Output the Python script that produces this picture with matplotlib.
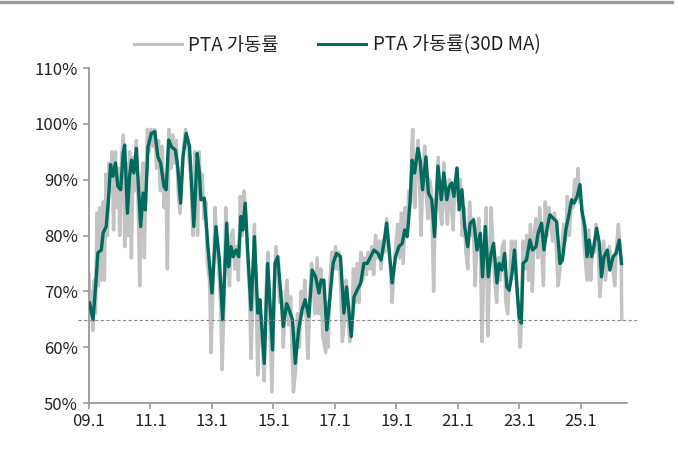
import matplotlib
matplotlib.use("Agg")
import matplotlib.pyplot as plt
from matplotlib.lines import Line2D

plt.rcParams['font.family'] = ['Noto Sans CJK KR', 'DejaVu Sans']

# ---- data (year fraction, utilisation %) ----
raw_x = [2009.00, 2009.04, 2009.08, 2009.12, 2009.17, 2009.21, 2009.26, 2009.30, 2009.35, 2009.40,
         2009.45, 2009.50, 2009.55, 2009.60, 2009.66, 2009.70, 2009.75, 2009.80, 2009.86, 2009.90,
         2009.95, 2010.00, 2010.06, 2010.12, 2010.16, 2010.21, 2010.27, 2010.32, 2010.38, 2010.43,
         2010.48, 2010.54, 2010.60, 2010.65, 2010.70, 2010.76, 2010.80, 2010.85, 2010.90, 2010.96,
         2011.02, 2011.08, 2011.14, 2011.20, 2011.26, 2011.32, 2011.38, 2011.44, 2011.50, 2011.55,
         2011.60, 2011.66, 2011.72, 2011.78, 2011.84, 2011.90, 2011.96, 2012.02, 2012.08, 2012.14,
         2012.20, 2012.26, 2012.32, 2012.38, 2012.44, 2012.50,
         2012.53, 2012.58, 2012.63, 2012.68, 2012.74, 2012.80, 2012.85, 2012.92, 2012.97, 2013.03,
         2013.10, 2013.16, 2013.22, 2013.28, 2013.33, 2013.40, 2013.45, 2013.52, 2013.57, 2013.62,
         2013.68, 2013.74, 2013.80, 2013.86, 2013.92, 2013.98, 2014.04, 2014.10, 2014.16, 2014.22,
         2014.27, 2014.33, 2014.38, 2014.43, 2014.49, 2014.53, 2014.58, 2014.64, 2014.70, 2014.76,
         2014.82, 2014.88, 2014.95, 2015.02, 2015.08, 2015.14, 2015.20, 2015.26, 2015.32, 2015.38,
         2015.44, 2015.50, 2015.56, 2015.60, 2015.65, 2015.72, 2015.78, 2015.84, 2015.90, 2015.96,
         2016.02, 2016.06, 2016.12, 2016.18, 2016.24, 2016.30, 2016.36, 2016.42, 2016.48, 2016.54,
         2016.60, 2016.70, 2016.74, 2016.78, 2016.84, 2016.90, 2016.96, 2017.02, 2017.08, 2017.14,
         2017.19, 2017.24, 2017.30, 2017.36, 2017.42, 2017.48, 2017.54, 2017.60, 2017.66, 2017.72,
         2017.78, 2017.84, 2017.90, 2017.96, 2018.02, 2018.08, 2018.14, 2018.20, 2018.26, 2018.32,
         2018.38, 2018.44, 2018.50, 2018.56, 2018.62, 2018.68, 2018.74, 2018.80, 2018.86, 2018.92,
         2018.98, 2019.04, 2019.10, 2019.16, 2019.22, 2019.28, 2019.34, 2019.40, 2019.46, 2019.50,
         2019.53, 2019.56, 2019.60, 2019.65, 2019.70, 2019.75, 2019.80, 2019.86, 2019.92, 2019.96,
         2020.02, 2020.08, 2020.14, 2020.21, 2020.26, 2020.30, 2020.36, 2020.42, 2020.48, 2020.54,
         2020.60, 2020.66, 2020.72, 2020.78, 2020.84, 2020.90, 2020.96, 2021.02, 2021.08, 2021.14,
         2021.20, 2021.26, 2021.32, 2021.38, 2021.44, 2021.50, 2021.56, 2021.62, 2021.68, 2021.74,
         2021.78, 2021.86, 2021.92, 2021.97, 2022.04, 2022.08, 2022.14, 2022.20, 2022.26, 2022.32,
         2022.38, 2022.44, 2022.50, 2022.56, 2022.62, 2022.68, 2022.74, 2022.80, 2022.86, 2022.92,
         2022.98, 2023.02,
         2023.04, 2023.08, 2023.12, 2023.18, 2023.24, 2023.30, 2023.36, 2023.42, 2023.48, 2023.54,
         2023.60, 2023.66, 2023.72, 2023.78, 2023.84, 2023.90, 2023.96, 2024.02, 2024.08, 2024.14,
         2024.20, 2024.26, 2024.32, 2024.38, 2024.44, 2024.50, 2024.56, 2024.62, 2024.68, 2024.74,
         2024.80, 2024.86, 2024.91, 2024.96, 2025.02, 2025.08, 2025.14, 2025.20, 2025.26, 2025.32,
         2025.38, 2025.44, 2025.50, 2025.56, 2025.62, 2025.68, 2025.74, 2025.80, 2025.86, 2025.92,
         2025.98, 2026.04, 2026.10, 2026.16, 2026.22, 2026.27, 2026.31, 2026.33]
raw_y = [73, 66, 70, 63, 72, 66, 84, 71, 85, 72,
         86, 72, 91, 80, 93, 88, 95, 81, 95, 85,
         92, 80, 94, 98, 78, 93, 80, 95, 76, 94,
         88, 97, 85, 71, 89, 93, 76, 90, 99, 95,
         99, 96, 99, 92, 97, 88, 96, 85, 91, 74,
         99, 92, 98, 93, 97, 88, 84, 92, 96, 99,
         97, 93, 90, 80, 95, 94,
         80, 95, 88, 91, 83, 86, 75, 72, 59, 70,
         85, 78, 74, 68, 56, 70, 85, 75, 71, 80,
         81, 74, 78, 72, 87, 80, 88, 84, 76, 70,
         58, 70, 82, 72, 55, 68, 64, 60, 54, 70,
         77, 66, 52, 70, 78, 74, 68, 70, 60, 68,
         72, 64, 69, 60, 52, 56, 66, 60, 70, 66,
         72, 66, 58, 68, 75, 70, 66, 76, 66, 74,
         62, 59, 68, 60, 72, 77, 74, 78, 74, 77,
         70, 61, 64, 72, 66, 61, 64, 74, 68, 75,
         68, 77, 72, 76, 73, 77, 74, 78, 73, 80,
         76, 79, 74, 79, 77, 83, 79, 75, 68, 74,
         78, 82, 76, 84, 75, 85, 80, 88, 86, 96,
         99, 90, 85, 93, 97, 90, 80, 91, 96, 88,
         83, 90, 88, 70, 84, 88, 94, 84, 82, 93,
         86, 82, 90, 86, 81, 89, 92, 86, 90, 80,
         85, 77, 74, 86, 80, 83, 71, 80, 83, 75,
         61, 78, 85, 62, 76, 85, 78, 72, 68, 76,
         72, 78, 79, 68, 66, 72, 79, 74, 79, 70,
         66, 60,
         61, 70, 79, 74, 80, 72, 82, 70, 80, 83,
         76, 85, 78, 71, 86, 80, 85, 82, 79, 84,
         78, 71, 74, 78, 82, 79, 87, 80, 86, 85,
         90, 87, 92, 86, 86, 80, 76, 72, 81, 72,
         78, 77, 82, 78, 69, 74, 79, 72, 76, 78,
         76, 74, 71, 78, 82, 77, 76, 65]

ma_x = [2009.02, 2009.13, 2009.19, 2009.29, 2009.40, 2009.46, 2009.56, 2009.64, 2009.70, 2009.78,
        2009.86, 2009.94, 2010.03, 2010.11, 2010.16, 2010.25, 2010.32, 2010.38, 2010.46, 2010.54,
        2010.59, 2010.68, 2010.76, 2010.83, 2010.92, 2011.03, 2011.14, 2011.24, 2011.33, 2011.44,
        2011.51, 2011.59, 2011.68, 2011.81, 2011.89, 2011.98, 2012.06, 2012.16, 2012.27, 2012.41,
        2012.52, 2012.59, 2012.64, 2012.75, 2012.86, 2013.00, 2013.13, 2013.24, 2013.35, 2013.48,
        2013.54, 2013.62, 2013.69, 2013.78, 2013.87, 2013.94, 2014.00, 2014.08, 2014.16, 2014.27,
        2014.38, 2014.49, 2014.56, 2014.70, 2014.81, 2014.88, 2014.97, 2015.05, 2015.14, 2015.21,
        2015.32, 2015.43, 2015.51, 2015.62, 2015.71, 2015.82, 2015.93, 2016.03, 2016.15, 2016.26,
        2016.37, 2016.48, 2016.55, 2016.64, 2016.73, 2016.80, 2016.94, 2017.05, 2017.18, 2017.29,
        2017.38, 2017.45, 2017.53, 2017.62, 2017.72, 2017.84, 2017.94, 2018.05, 2018.16, 2018.27,
        2018.40, 2018.50, 2018.59, 2018.68, 2018.79, 2018.86, 2018.97, 2019.08, 2019.19, 2019.27,
        2019.35, 2019.44, 2019.51, 2019.59, 2019.70, 2019.77, 2019.85, 2019.96, 2020.04, 2020.15,
        2020.24, 2020.35, 2020.46, 2020.54, 2020.64, 2020.72, 2020.80, 2020.87, 2020.97, 2021.04,
        2021.13, 2021.22, 2021.32, 2021.40, 2021.51, 2021.62, 2021.73, 2021.80, 2021.89, 2021.99,
        2022.08, 2022.16, 2022.27, 2022.34, 2022.43, 2022.52, 2022.59, 2022.67, 2022.76, 2022.84,
        2022.92, 2022.99, 2023.06, 2023.12, 2023.23, 2023.34, 2023.43, 2023.54, 2023.61, 2023.72,
        2023.80, 2023.89, 2023.99, 2024.10, 2024.21, 2024.32, 2024.40, 2024.51, 2024.62, 2024.70,
        2024.78, 2024.88, 2024.97, 2025.03, 2025.13, 2025.20, 2025.27, 2025.35, 2025.42, 2025.51,
        2025.60, 2025.67, 2025.75, 2025.86, 2025.94, 2026.05, 2026.14, 2026.25, 2026.32]
ma_y = [67.9, 64.9, 69.0, 76.9, 77.4, 80.5, 81.6, 87.0, 92.7, 90.6,
        93.0, 88.8, 88.2, 94.7, 96.2, 84.0, 90.6, 93.5, 91.2, 95.6,
        90.6, 81.6, 87.6, 84.6, 95.9, 98.3, 98.6, 94.1, 93.0, 88.8,
        88.2, 97.1, 95.9, 95.3, 92.1, 85.8, 94.1, 98.3, 95.9, 81.6,
        94.7, 91.2, 86.4, 86.7, 78.6, 69.7, 81.6, 75.6, 64.9, 82.2,
        74.4, 78.0, 76.2, 77.4, 76.2, 83.4, 81.0, 85.8, 77.4, 66.7,
        79.8, 66.1, 68.5, 57.1, 75.0, 68.5, 59.5, 75.0, 76.2, 71.5,
        63.7, 67.8, 66.7, 64.9, 57.1, 63.1, 66.7, 68.5, 65.5, 73.8,
        72.6, 69.7, 72.0, 72.0, 63.1, 66.7, 75.0, 76.8, 76.2, 66.1,
        70.8, 66.7, 61.9, 69.0, 70.2, 71.5, 75.0, 75.0, 76.2, 77.4,
        76.8, 75.6, 78.6, 82.2, 75.6, 71.5, 76.2, 78.0, 78.6, 81.0,
        79.8, 85.8, 93.5, 91.2, 95.6, 93.5, 88.2, 94.1, 87.6, 86.4,
        79.8, 92.4, 86.4, 91.2, 86.4, 88.8, 89.4, 87.0, 92.1, 84.6,
        88.2, 81.6, 78.0, 82.2, 82.8, 77.4, 80.4, 72.6, 81.6, 72.6,
        76.8, 78.6, 71.5, 75.0, 73.8, 76.8, 70.8, 70.2, 73.2, 77.4,
        70.8, 65.5, 64.3, 75.0, 75.6, 79.2, 77.4, 78.0, 80.4, 82.2,
        77.4, 81.0, 83.7, 83.1, 82.5, 75.0, 75.6, 81.0, 84.0, 86.4,
        85.8, 87.0, 89.1, 84.6, 81.6, 76.2, 79.2, 76.2, 78.0, 81.3,
        78.6, 72.6, 76.2, 77.4, 73.8, 76.2, 76.8, 79.2, 75.0]

ref_level = 64.8
y_ticks = [50, 60, 70, 80, 90, 100, 110]
x_ticks = [2009, 2011, 2013, 2015, 2017, 2019, 2021, 2023, 2025]
x_labels = ['09.1', '11.1', '13.1', '15.1', '17.1', '19.1', '21.1', '23.1', '25.1']
series_names = ['PTA 가동률', 'PTA 가동률(30D MA)']

# ---- figure ----
fig = plt.figure(figsize=(6.78, 4.5), dpi=100)
ax = fig.add_axes([89/678, 1 - 403/450, (626.7 - 89)/678, (403 - 68)/450])

gray = '#c3c3c3'
teal = '#006b5c'
axis_c = '#9a9a9a'

ax.plot(raw_x, raw_y, color=gray, lw=2.5, solid_joinstyle='round', label=series_names[0], zorder=2)
ax.plot(ma_x, ma_y, color=teal, lw=2.4, solid_joinstyle='round', label=series_names[1], zorder=3)
ax.plot([2008.64, 2026.82], [ref_level, ref_level], color='#8c8c8c', lw=0.8,
        ls=(0, (3, 2)), clip_on=False, zorder=4)

ax.set_xlim(2009.0, 2026.49)
ax.set_ylim(50, 110)
ax.set_yticks(y_ticks)
ax.set_yticklabels([f'{v}%' for v in y_ticks])
ax.set_xticks(x_ticks)
ax.set_xticklabels(x_labels)

for s in ['top', 'right']:
    ax.spines[s].set_visible(False)
for s in ['left', 'bottom']:
    ax.spines[s].set_color(axis_c)
    ax.spines[s].set_linewidth(1.3)
ax.tick_params(axis='both', colors=axis_c, labelcolor='#222222', labelsize=12,
               length=4, width=1.2, direction='out')
ax.tick_params(axis='y', pad=4)
ax.tick_params(axis='x', pad=3)

leg = fig.legend(loc='center', bbox_to_anchor=(0.497, 0.9), ncol=2, frameon=False,
                 fontsize=13.5, handlelength=2.56, handletextpad=0.35, columnspacing=2.1)
for t in leg.get_texts():
    t.set_color('#222222')
for h in leg.get_lines():
    h.set_linewidth(2.2)

# top border
fig.add_artist(Line2D([0, 672/678], [1 - 1.6/450, 1 - 1.6/450], color='#9a9a9a', lw=2.4,
                      transform=fig.transFigure))

fig.savefig('out.png', dpi=100)
